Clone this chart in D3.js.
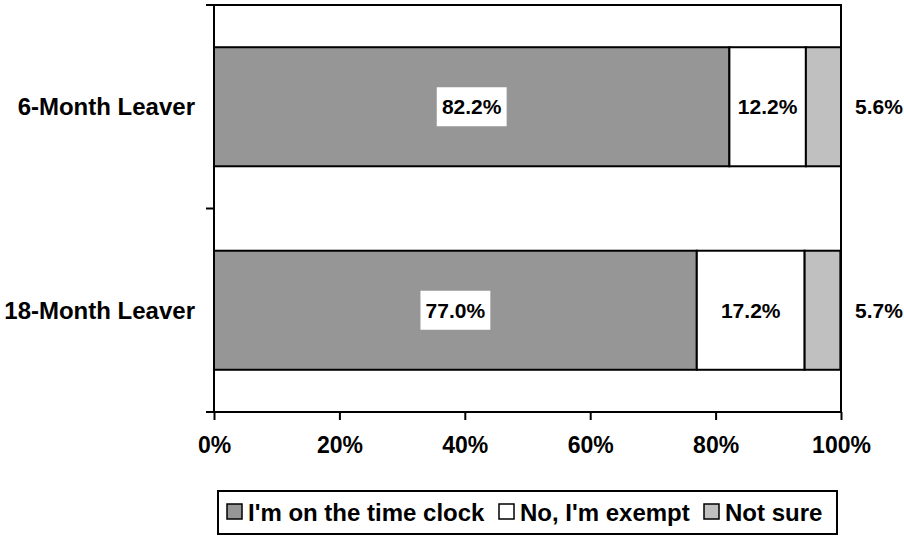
<!DOCTYPE html>
<html>
<head>
<meta charset="utf-8">
<script src="https://cdn.jsdelivr.net/npm/d3@7"></script>
<style>
  html, body { margin: 0; padding: 0; background: #fff; }
  svg { display: block; font-family: "Liberation Sans", Arial, Helvetica, sans-serif; font-weight: bold; }
</style>
</head>
<body>
<svg id="chart" width="904" height="536"></svg>
<script>
// Survey responses: is the leaver paid by the time clock?
const categories = ["6-Month Leaver", "18-Month Leaver"];
const seriesNames = ["I'm on the time clock", "No, I'm exempt", "Not sure"];
const onClock = [82.2, 77.0];
const exempt = [12.2, 17.2];
const notSure = [5.6, 5.7];
const xTicks = [0, 20, 40, 60, 80, 100];
const colors = ["#969696", "#ffffff", "#c0c0c0"];

const rows = categories.map((c, i) => ({
  category: c,
  [seriesNames[0]]: onClock[i],
  [seriesNames[1]]: exempt[i],
  [seriesNames[2]]: notSure[i]
}));

const svg = d3.select("#chart");
const plot = { left: 214, right: 841, top: 5, bottom: 412 };

const x = d3.scaleLinear().domain([0, 100]).range([plot.left, plot.right]);
const y = d3.scaleBand().domain(categories).range([plot.top, plot.bottom])
  .paddingInner(0.415).paddingOuter(0.2075);

const stack = d3.stack().keys(seriesNames);
const layers = stack(rows);

// Plot area frame (top and right edges)
svg.append("path")
  .attr("d", `M${plot.left},${plot.top}H${plot.right}V${plot.bottom}`)
  .attr("fill", "none").attr("stroke", "#000").attr("stroke-width", 2);

// Stacked bars
layers.forEach((layer, si) => {
  svg.append("g").selectAll("rect")
    .data(layer)
    .join("rect")
    .attr("x", d => x(d[0]))
    .attr("width", d => x(d[1]) - x(d[0]))
    .attr("y", d => y(d.data.category))
    .attr("height", y.bandwidth())
    .attr("fill", colors[si])
    .attr("stroke", "#000")
    .attr("stroke-width", 2);
});

// Value axis along the bottom
const xAxis = svg.append("g")
  .attr("transform", `translate(0,${plot.bottom})`)
  .call(d3.axisBottom(x).tickValues(xTicks).tickFormat(d => d + "%").tickSize(8).tickPadding(17));
xAxis.select(".domain").attr("stroke-width", 2).attr("d", `M${plot.left - 8},0H${plot.right}`);
xAxis.selectAll(".tick line").attr("stroke-width", 2);
xAxis.selectAll(".tick text")
  .attr("font-size", 23).attr("font-weight", "bold").attr("fill", "#000")
  .attr("font-family", "Liberation Sans, Arial, sans-serif");

// Category axis: tick marks at band boundaries, labels at band centres
const step = y.step();
const boundaries = d3.range(categories.length + 1).map(i => plot.top + i * step);
const yAxis = svg.append("g");
yAxis.append("line")
  .attr("x1", plot.left).attr("x2", plot.left)
  .attr("y1", plot.top).attr("y2", plot.bottom)
  .attr("stroke", "#000").attr("stroke-width", 2);
yAxis.selectAll("line.tick")
  .data(boundaries)
  .join("line")
  .attr("class", "tick")
  .attr("x1", plot.left - 8).attr("x2", plot.left)
  .attr("y1", d => d).attr("y2", d => d)
  .attr("stroke", "#000").attr("stroke-width", 2);
yAxis.selectAll("text")
  .data(categories)
  .join("text")
  .attr("x", 195)
  .attr("y", d => y(d) + y.bandwidth() / 2)
  .attr("text-anchor", "end")
  .attr("dominant-baseline", "central")
  .attr("font-size", 24)
  .text(d => d);

// Value labels
const fmt = v => v.toFixed(1) + "%";
const labelSize = 21;

// First segment: label on a white box
layers[0].forEach(d => {
  const cx = (x(d[0]) + x(d[1])) / 2;
  const cy = y(d.data.category) + y.bandwidth() / 2;
  const g = svg.append("g");
  const t = g.append("text")
    .attr("x", cx).attr("y", cy)
    .attr("text-anchor", "middle").attr("dominant-baseline", "central")
    .attr("font-size", labelSize)
    .text(fmt(d[1] - d[0]));
  const bb = t.node().getBBox();
  g.insert("rect", "text")
    .attr("x", cx - bb.width / 2 - 5).attr("width", bb.width + 10)
    .attr("y", cy - 19.5).attr("height", 39)
    .attr("fill", "#fff");
});

// Second segment: centred inside
svg.append("g").selectAll("text")
  .data(layers[1])
  .join("text")
  .attr("x", d => (x(d[0]) + x(d[1])) / 2)
  .attr("y", d => y(d.data.category) + y.bandwidth() / 2)
  .attr("text-anchor", "middle").attr("dominant-baseline", "central")
  .attr("font-size", labelSize)
  .text(d => fmt(d[1] - d[0]));

// Third segment: placed just outside the bar end
svg.append("g").selectAll("text")
  .data(layers[2])
  .join("text")
  .attr("x", x(100) + 14)
  .attr("y", d => y(d.data.category) + y.bandwidth() / 2)
  .attr("text-anchor", "start").attr("dominant-baseline", "central")
  .attr("font-size", labelSize)
  .text(d => fmt(d[1] - d[0]));

// Legend
const legend = svg.append("g");
legend.append("rect")
  .attr("x", 218).attr("y", 491).attr("width", 619).attr("height", 43)
  .attr("fill", "#fff").attr("stroke", "#000").attr("stroke-width", 2);
const legendX = [227, 499, 704];
seriesNames.forEach((name, i) => {
  legend.append("rect")
    .attr("x", legendX[i]).attr("y", 504).attr("width", 15).attr("height", 15)
    .attr("fill", colors[i]).attr("stroke", "#000").attr("stroke-width", 1.5);
  legend.append("text")
    .attr("x", legendX[i] + 21).attr("y", 512)
    .attr("dominant-baseline", "central")
    .attr("font-size", 24)
    .text(name);
});
</script>
</body>
</html>
